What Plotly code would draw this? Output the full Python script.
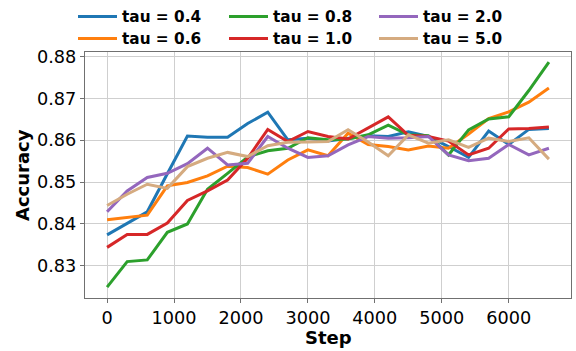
import plotly.graph_objects as go

steps = [0, 300, 600, 900, 1200, 1500, 1800, 2100, 2400, 2700, 3000, 3300,
         3600, 3900, 4200, 4500, 4800, 5100, 5400, 5700, 6000, 6300, 6600]

tau_04 = [0.8374, 0.8402, 0.8429, 0.8520, 0.8610, 0.8607, 0.8607, 0.8640, 0.8667, 0.8601, 0.8605, 0.8598,
          0.8605, 0.8611, 0.8609, 0.8620, 0.8609, 0.8585, 0.8559, 0.8622, 0.8590, 0.8626, 0.8628]
tau_06 = [0.8410, 0.8415, 0.8421, 0.8491, 0.8499, 0.8515, 0.8538, 0.8535, 0.8519, 0.8553, 0.8577, 0.8563,
          0.8617, 0.8590, 0.8585, 0.8577, 0.8586, 0.8581, 0.8615, 0.8652, 0.8668, 0.8691, 0.8725]
tau_08 = [0.8249, 0.8310, 0.8314, 0.8380, 0.8400, 0.8483, 0.8521, 0.8560, 0.8575, 0.8581, 0.8606, 0.8601,
          0.8603, 0.8613, 0.8636, 0.8613, 0.8611, 0.8565, 0.8625, 0.8651, 0.8656, 0.8719, 0.8787]
tau_10 = [0.8344, 0.8375, 0.8375, 0.8402, 0.8456, 0.8479, 0.8505, 0.8557, 0.8626, 0.8597, 0.8621, 0.8609,
          0.8603, 0.8629, 0.8656, 0.8612, 0.8609, 0.8598, 0.8565, 0.8581, 0.8627, 0.8628, 0.8632]
tau_20 = [0.8429, 0.8479, 0.8511, 0.8521, 0.8544, 0.8581, 0.8541, 0.8545, 0.8609, 0.8581, 0.8559, 0.8563,
          0.8589, 0.8609, 0.8605, 0.8606, 0.8609, 0.8565, 0.8551, 0.8557, 0.8590, 0.8565, 0.8581]
tau_50 = [0.8444, 0.8471, 0.8495, 0.8485, 0.8537, 0.8557, 0.8571, 0.8561, 0.8587, 0.8595, 0.8596, 0.8597,
          0.8625, 0.8596, 0.8563, 0.8613, 0.8593, 0.8601, 0.8583, 0.8605, 0.8597, 0.8606, 0.8555]

x_ticks = [0, 1000, 2000, 3000, 4000, 5000, 6000]
y_ticks = [0.83, 0.84, 0.85, 0.86, 0.87, 0.88]

# (label, values, colour, legend slot (column, row))
series = [
    ("tau = 0.4", tau_04, "#1f77b4", (0, 0)),
    ("tau = 0.6", tau_06, "#ff7f0e", (0, 1)),
    ("tau = 0.8", tau_08, "#2ca02c", (1, 0)),
    ("tau = 1.0", tau_10, "#d62728", (1, 1)),
    ("tau = 2.0", tau_20, "#9467bd", (2, 0)),
    ("tau = 5.0", tau_50, "#d5ab80", (2, 1)),
]

font_family = "DejaVu Sans"
col_x = [73, 224, 374]
row_y = [1.0 + 2 / 351, 1.0 - 22 / 351]

fig = go.Figure()
legends = {}
for i, (name, vals, color, (c, r)) in enumerate(series):
    key = "legend" if i == 0 else f"legend{i + 1}"
    fig.add_trace(go.Scatter(x=steps, y=vals, mode="lines", name=name,
                             line=dict(color=color, width=3), legend=key))
    legends[key] = dict(orientation="v", xref="container", yref="container",
                        x=col_x[c] / 576, y=row_y[r], xanchor="left", yanchor="top",
                        itemwidth=39,
                        font=dict(family=font_family, size=15.3, color="black", weight="bold"),
                        bgcolor="rgba(0,0,0,0)")

axis_common = dict(
    showline=True, linecolor="#707070", linewidth=1.3, mirror=True,
    showgrid=True, gridcolor="#cfcfcf", gridwidth=1,
    ticks="outside", ticklen=4, tickcolor="#707070", tickwidth=1,
    zeroline=False,
    tickfont=dict(family=font_family, size=17.7, color="black"),
)

fig.update_layout(
    width=576, height=351,
    margin=dict(l=85, r=5, t=52, b=53, autoexpand=False),
    plot_bgcolor="white", paper_bgcolor="white",
    font=dict(family=font_family, color="black"),
    xaxis=dict(range=[-330, 6930], tickvals=x_ticks, **axis_common),
    yaxis=dict(range=[0.8223, 0.8811], tickvals=y_ticks, tickformat=".2f", **axis_common),
    showlegend=True,
    annotations=[
        dict(text="<b>Accuracy</b>", xref="paper", yref="paper", x=0, y=0.5,
             xshift=-63, textangle=-90, xanchor="center", yanchor="middle", showarrow=False,
             font=dict(family=font_family, size=18, color="black")),
        dict(text="<b>Step</b>", xref="paper", yref="paper", x=0.5, y=0,
             yshift=-39, xanchor="center", yanchor="middle", showarrow=False,
             font=dict(family=font_family, size=18, color="black")),
    ],
)
fig.update_layout(**legends)

fig.write_html("out.html", config={"displayModeBar": False},
               post_script="document.body.style.margin='0';document.body.style.padding='0';")
